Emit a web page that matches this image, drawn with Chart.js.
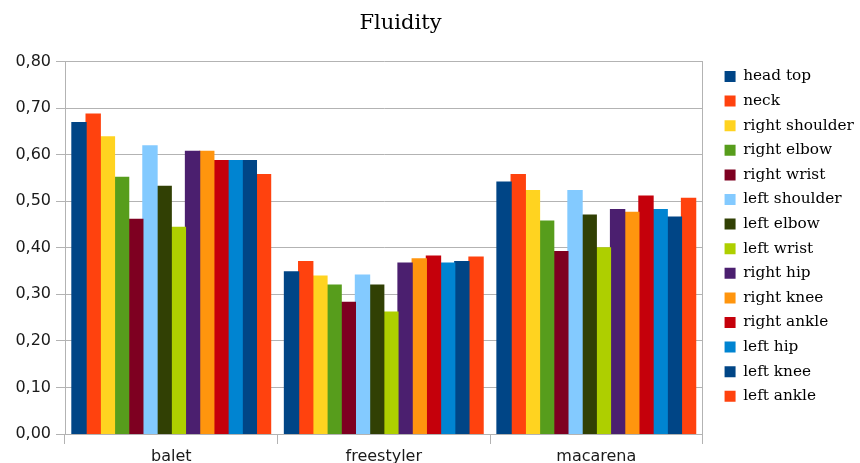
<!DOCTYPE html>
<html>
<head>
<meta charset="utf-8">
<script src="https://cdn.jsdelivr.net/npm/chart.js@4/dist/chart.umd.min.js"></script>
<style>
html,body{margin:0;padding:0;background:#fff;}
#wrap{width:860px;height:463px;position:relative;}
</style>
</head>
<body>
<div id="wrap"><canvas id="c" width="860" height="463"></canvas></div>
<script>
// ---- data ----
const chartTitle = 'Fluidity';
const categories = ['balet', 'freestyler', 'macarena'];
const jointNames = ['head top', 'neck', 'right shoulder', 'right elbow', 'right wrist', 'left shoulder', 'left elbow', 'left wrist', 'right hip', 'right knee', 'right ankle', 'left hip', 'left knee', 'left ankle'];
const headTop       = [0.669, 0.348, 0.541];
const neck          = [0.687, 0.370, 0.557];
const rightShoulder = [0.638, 0.339, 0.523];
const rightElbow    = [0.551, 0.320, 0.457];
const rightWrist    = [0.461, 0.283, 0.392];
const leftShoulder  = [0.619, 0.341, 0.523];
const leftElbow     = [0.532, 0.320, 0.470];
const leftWrist     = [0.444, 0.262, 0.400];
const rightHip      = [0.607, 0.367, 0.482];
const rightKnee     = [0.607, 0.376, 0.476];
const rightAnkle    = [0.587, 0.382, 0.511];
const leftHip       = [0.587, 0.367, 0.482];
const leftKnee      = [0.587, 0.370, 0.466];
const leftAnkle     = [0.557, 0.380, 0.506];
const yTicks = [0, 0.1, 0.2, 0.3, 0.4, 0.5, 0.6, 0.7, 0.8];

const seriesValues = [headTop, neck, rightShoulder, rightElbow, rightWrist, leftShoulder, leftElbow, leftWrist, rightHip, rightKnee, rightAnkle, leftHip, leftKnee, leftAnkle];
const seriesColors = ['#004586', '#ff420e', '#ffd320', '#579d1c', '#7e0021', '#83caff', '#314004', '#aecf00', '#4b1f6f', '#ff950e', '#c5000b', '#0084d1', '#004586', '#ff420e'];

// ---- style ----
const GRID = '#b3b3b3';
const TEXT = '#1a1a1a';
const legendFont = {family: '"DejaVu Serif"', size: 15.3};
const legendPad = 9.3;
const legendBox = 11;

// measure legend width so the plot's right edge lands where it should
const mctx = document.createElement('canvas').getContext('2d');
mctx.font = legendFont.size + 'px ' + legendFont.family;
let maxText = 0;
jointNames.forEach(n => { maxText = Math.max(maxText, mctx.measureText(n).width); });
const legendWidth = legendPad + legendBox + legendFont.size / 2 + maxText + 10;
const rightGap = 12.7;
const padRight = 860 - 701 - rightGap - legendWidth + 4;

const titlePlugin = {
  id: 'sideTitle',
  afterDraw(chart) {
    const ctx = chart.ctx;
    ctx.save();
    ctx.font = '21px "DejaVu Serif"';
    ctx.fillStyle = '#000';
    ctx.textAlign = 'center';
    ctx.textBaseline = 'alphabetic';
    ctx.fillText(chartTitle, 400.5, 28.5);
    ctx.restore();
  }
};

const datasets = jointNames.map((name, i) => ({
  label: name,
  data: seriesValues[i],
  backgroundColor: seriesColors[i],
  borderWidth: 0,
  inflateAmount: 0.6,
  barPercentage: 1.0,
  categoryPercentage: 0.935
}));

new Chart(document.getElementById('c'), {
  type: 'bar',
  data: {labels: categories, datasets},
  options: {
    responsive: false,
    animation: false,
    devicePixelRatio: 1,
    layout: {padding: {top: 59.55, left: 0, bottom: 0, right: padRight}},
    plugins: {
      title: {display: false},
      tooltip: {enabled: false},
      legend: {
        display: true,
        position: 'right',
        align: 'start',
        labels: {
          boxWidth: legendBox,
          boxHeight: legendBox,
          padding: legendPad,
          color: '#000',
          font: legendFont
        }
      }
    },
    scales: {
      x: {
        type: 'category',
        offset: true,
        grid: {display: true, drawOnChartArea: false, drawTicks: true, tickLength: 10, color: GRID, offset: true},
        border: {display: true, color: GRID, width: 1},
        ticks: {color: TEXT, font: {family: '"DejaVu Sans"', size: 16}, padding: 3},
        afterFit(s) { s.height = 29; }
      },
      xTop: {
        type: 'linear',
        position: 'top',
        display: true,
        grid: {display: false},
        border: {display: false},
        ticks: {display: false},
        afterFit(s) { s.height = 1.95; }
      },
      y: {
        min: 0,
        max: 0.8,
        afterBuildTicks(s) { s.ticks = yTicks.map(v => ({value: v})); },
        ticks: {
          color: TEXT,
          font: {family: '"DejaVu Sans"', size: 16},
          padding: 5,
          callback: v => v.toFixed(2).replace('.', ',')
        },
        grid: {color: GRID, tickLength: 9, drawTicks: true},
        border: {display: true, color: GRID, width: 1},
        afterFit(s) { s.width = 65; }
      },
      yRight: {
        type: 'linear',
        position: 'right',
        display: true,
        grid: {display: true, drawOnChartArea: false, drawTicks: false},
        border: {display: true, color: GRID, width: 1},
        ticks: {display: false},
        afterFit(s) { s.width = rightGap; }
      }
    }
  },
  plugins: [titlePlugin]
});
</script>
</body>
</html>
